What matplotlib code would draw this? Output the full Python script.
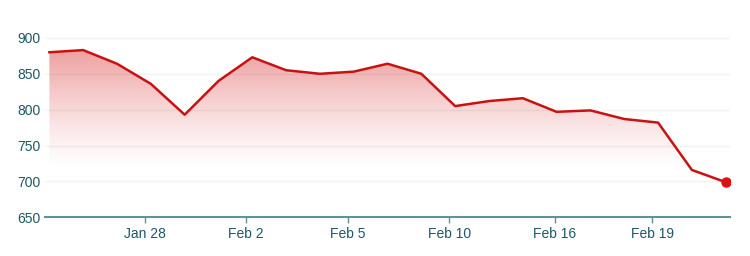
import numpy as np
import matplotlib
matplotlib.use("Agg")
import matplotlib.pyplot as plt

plt.rcParams['font.family'] = ['Liberation Sans', 'DejaVu Sans']

# closing values, one per trading session
prices = [880, 883, 864, 836, 793, 840, 873, 855, 850, 853, 864,
          850, 805, 812, 816, 797, 799, 787, 782, 716, 699]
tick_pos = [2.83, 5.82, 8.82, 11.82, 14.95, 17.83]
tick_labels = ["Jan 28", "Feb 2", "Feb 5", "Feb 10", "Feb 16", "Feb 19"]
y_ticks = [650, 700, 750, 800, 850, 900]

x = np.arange(len(prices))
axis_col = "#5e9297"
text_col = "#1d5866"

fig = plt.figure(figsize=(7.5, 2.56), dpi=100)
ax = fig.add_axes([0.06, 0.151, 0.913, 0.771])
ax.set_xlim(-0.13, 20.12)
ax.set_ylim(650, 925)

# gradient fill under the line
poly = ax.fill_between(x, prices, 650, facecolor="none", edgecolor="none")
vals = np.linspace(900, 650, 300)
alpha = np.clip((vals - 715) / (900 - 715), 0, 1) ** 1.3 * 0.55
grad = np.zeros((len(vals), 1, 4))
grad[..., 0] = 0.86
grad[..., 1] = 0.22
grad[..., 2] = 0.22
grad[..., 3] = alpha[:, None]
im = ax.imshow(grad, extent=[-0.13, 20.12, 650, 900], aspect="auto",
               origin="upper", zorder=1)
im.set_clip_path(poly.get_paths()[0], transform=ax.transData)

ax.plot(x, prices, color="#c81212", lw=1.8, zorder=3, solid_joinstyle="round")
ax.plot(x[-1], prices[-1], "o", color="#e01010", ms=6.5, zorder=4)

for v in y_ticks[1:]:
    ax.axhline(v, color="#eef3f3", lw=1, zorder=0)

for s in ["top", "right", "left"]:
    ax.spines[s].set_visible(False)
ax.spines["bottom"].set_color(axis_col)
ax.spines["bottom"].set_linewidth(1.5)

ax.set_yticks(y_ticks)
ax.set_yticklabels([str(v) for v in y_ticks])
ax.tick_params(axis="y", length=0, pad=3, labelsize=10, labelcolor=text_col)
ax.set_xticks(tick_pos)
ax.set_xticklabels(tick_labels)
ax.tick_params(axis="x", direction="out", length=4, width=1, color=axis_col,
               pad=3, labelsize=10, labelcolor=text_col)

fig.savefig("out.png", dpi=100, facecolor="white")
